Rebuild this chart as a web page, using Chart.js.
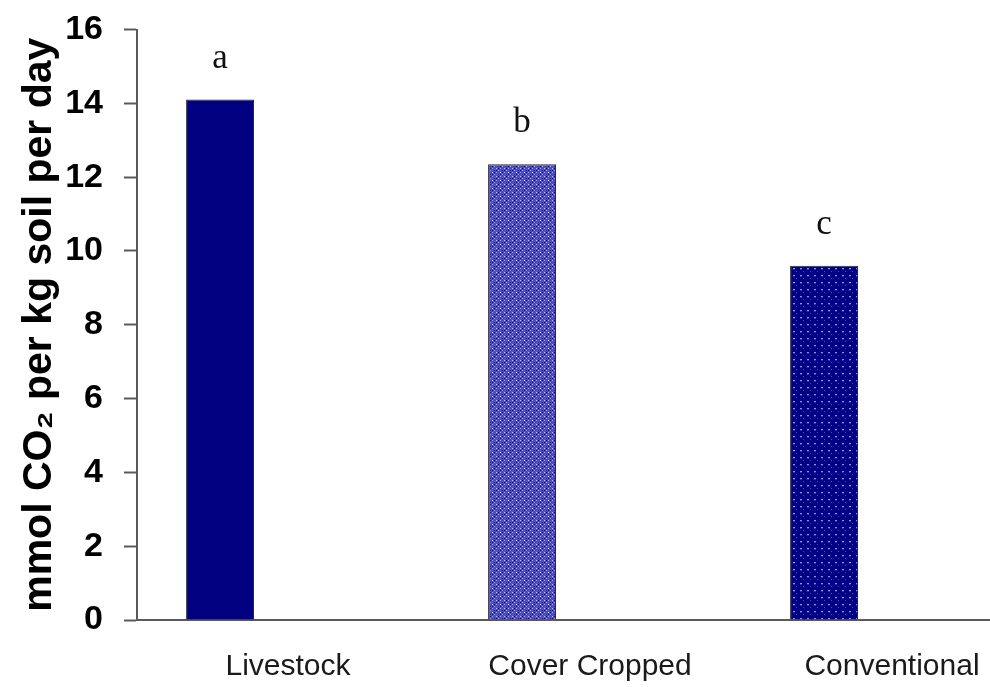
<!DOCTYPE html>
<html>
<head>
<meta charset="utf-8">
<script src="https://cdn.jsdelivr.net/npm/chart.js@4"></script>
<style>
  html, body { margin: 0; padding: 0; background: #fff; overflow: hidden; }
  #wrap { width: 1050px; height: 687px; }
</style>
</head>
<body>
<div id="wrap"><canvas id="c" width="1050" height="687"></canvas></div>
<script>
// Soil respiration by management system
const categories = ['Livestock', 'Cover Cropped', 'Conventional'];
const respiration = [14.1, 12.35, 9.6];
const significance = ['a', 'b', 'c'];
const yTicks = [0, 2, 4, 6, 8, 10, 12, 14, 16];
const yTitle = 'mmol CO\u2082 per kg soil per day';

// Small repeating fills for the hatched bars
function makePattern(size, bg, dots) {
  const p = document.createElement('canvas');
  p.width = size; p.height = size;
  const g = p.getContext('2d');
  g.fillStyle = bg;
  g.fillRect(0, 0, size, size);
  dots.forEach(([x, y, w, h, col]) => { g.fillStyle = col; g.fillRect(x, y, w, h); });
  return g.createPattern(p, 'repeat');
}
const ctx0 = document.getElementById('c').getContext('2d');
const weave = makePattern(8, '#4e4ec4', [
  [0, 0, 1, 1, '#c8c8fa'], [4, 4, 1, 1, '#c8c8fa'],
  [2, 0, 1, 1, '#06067e'], [6, 4, 1, 1, '#06067e'],
  [0, 2, 1, 1, '#06067e'], [4, 6, 1, 1, '#06067e'],
  [2, 2, 1, 1, '#9a9ae8'], [6, 6, 1, 1, '#9a9ae8'],
  [6, 2, 1, 1, '#2a2aa4'], [2, 6, 1, 1, '#2a2aa4'],
  [0, 4, 1, 1, '#9a9ae8'], [4, 0, 1, 1, '#9a9ae8']
]);
const dotted = makePattern(7, '#000084', [
  [2, 2, 2, 1, '#8c8cee'], [2, 3, 2, 1, '#3030a8'],
  [5, 5, 1, 1, '#4848c0']
]);
const fills = ['#000080', weave, dotted];

// Letters of the mean separation test above each bar
const letterPlugin = {
  id: 'letters',
  afterDatasetsDraw(chart) {
    const meta = chart.getDatasetMeta(0);
    const y = chart.scales.y;
    const c = chart.ctx;
    c.save();
    c.font = '35px "Liberation Serif", "Times New Roman", serif';
    c.fillStyle = '#111';
    c.textAlign = 'center';
    c.textBaseline = 'middle';
    meta.data.forEach((bar, i) => {
      c.fillText(significance[i], bar.x, y.getPixelForValue(respiration[i]) - 41);
    });
    c.restore();
  }
};

const axisColor = '#5a5a5a';
new Chart(ctx0, {
  type: 'bar',
  data: {
    labels: categories,
    datasets: [
      { data: respiration, backgroundColor: fills, borderColor: '#2a2a3a', borderWidth: 1 },
      // two unused series slots keep the bars to the left of each category
      { data: categories.map(() => null) },
      { data: categories.map(() => null) }
    ]
  },
  options: {
    responsive: false,
    animation: false,
    events: [],
    categoryPercentage: 0.675,
    barPercentage: 1,
    layout: { padding: { left: 0, right: 7, top: 28, bottom: 0 } },
    plugins: { legend: { display: false }, tooltip: { enabled: false } },
    scales: {
      x: {
        grid: { display: false, drawTicks: false },
        border: { color: axisColor, width: 2 },
        ticks: { color: '#1a1a1a', padding: 29, font: { family: '"Liberation Sans", Arial, sans-serif', size: 30 } },
        afterFit(s) { s.height = 67; }
      },
      y: {
        min: 0, max: 16,
        afterBuildTicks(s) { s.ticks = yTicks.map(v => ({ value: v })); },
        grid: { drawOnChartArea: false, tickLength: 13, tickColor: axisColor, tickWidth: 2 },
        border: { color: axisColor, width: 2 },
        ticks: { color: '#000', padding: 21, font: { family: '"Liberation Sans", Arial, sans-serif', size: 34, weight: 'bold', lineHeight: 0.5 } },
        title: {
          display: true, text: yTitle, color: '#000',
          padding: { top: 15, bottom: 0 },
          font: { family: '"Liberation Sans", Arial, sans-serif', size: 41, weight: 'bold' }
        },
        afterFit(s) { s.width = 137; }
      }
    }
  },
  plugins: [letterPlugin]
});
</script>
</body>
</html>
